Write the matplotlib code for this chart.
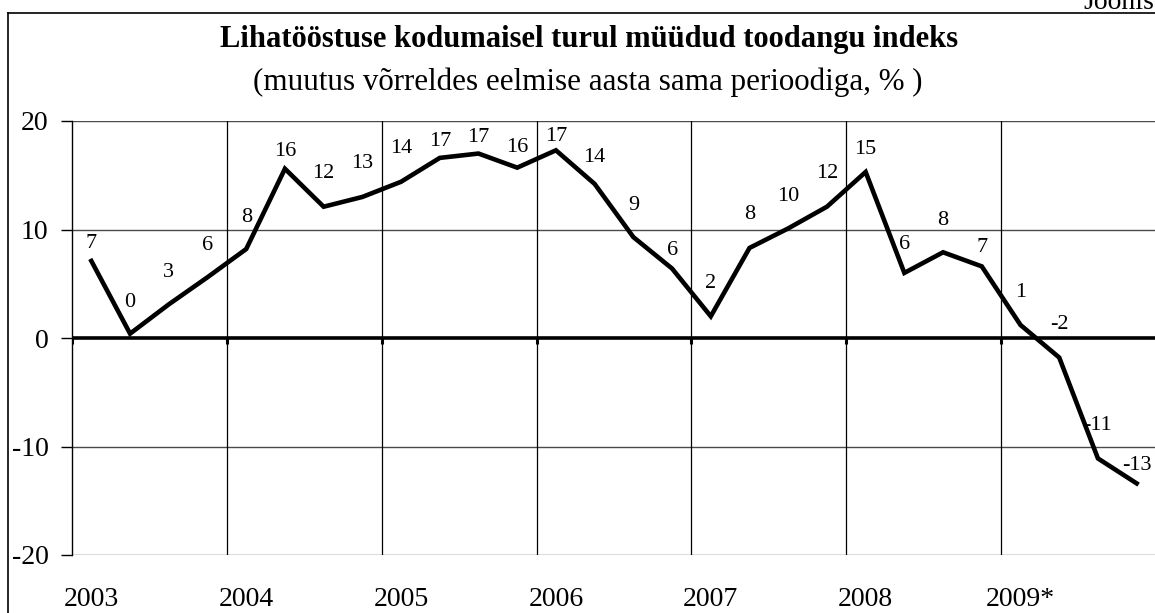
import matplotlib.pyplot as plt
from matplotlib.lines import Line2D
import numpy as np

plt.rcParams['font.family'] = ['Liberation Serif', 'DejaVu Serif']

# quarterly index, 2003 Q1 .. 2009 Q4
values = [7.1, 0.4, 3.1, 5.6, 8.2, 15.6, 12.1, 13.0, 14.4, 16.6, 17.0, 15.7,
          17.3, 14.2, 9.3, 6.4, 2.0, 8.3, 10.1, 12.1, 15.3, 6.0, 7.9, 6.6,
          1.2, -1.8, -11.1, -13.4]
labels = [7, 0, 3, 6, 8, 16, 12, 13, 14, 17, 17, 16,
          17, 14, 9, 6, 2, 8, 10, 12, 15, 6, 8, 7,
          1, -2, -11, -13]
years = ['2003', '2004', '2005', '2006', '2007', '2008', '2009*']
yticks = [-20, -10, 0, 10, 20]

# label offset above the point (pixels)
lab_dy = [17, 31, 32, 32, 32, 17, 33, 33, 33, 16, 16, 20,
          14, 26, 32, 18, 33, 33, 32, 33, 22, 28, 32, 19,
          32, 33, 33, 18]

W, H = 1155, 613
fig = plt.figure(figsize=(W / 100, H / 100), dpi=100)
ax = fig.add_axes([72 / W, 1 - 555 / H, (1156 - 72) / W, (555 - 121) / H])

x = np.arange(len(values))
ax.set_xlim(-0.5, len(values) - 0.5)
ax.set_ylim(-20, 20)

# grid
for yv in yticks:
    if yv != 0:
        ax.axhline(yv, color='#4a4a4a', lw=1.0, zorder=1)
bounds = np.arange(3.5, len(values) - 0.5, 4)
for b in bounds:
    ax.axvline(b, color='black', lw=0.9, zorder=1)

ax.axhline(0, color='black', lw=2.6, zorder=2)
ax.vlines(np.append(-0.5, bounds), -0.55, 0, color='black', lw=2.2, zorder=2)

ax.plot(x, values, color='black', lw=3.3, zorder=3, solid_joinstyle='miter')

for i, (v, l) in enumerate(zip(values, labels)):
    ax.annotate(str(l), (i, v), xytext=(0, lab_dy[i]), textcoords='offset pixels',
                ha='center', va='center', fontsize=16, zorder=4)

for s in ['top', 'right', 'bottom']:
    ax.spines[s].set_visible(False)
ax.spines['left'].set_linewidth(1.0)

ax.set_yticks(yticks)
ax.set_yticklabels([str(t) for t in yticks])
ax.tick_params(axis='y', length=8, width=1.0, pad=9, labelsize=20)
ax.set_xticks(np.arange(0, len(values), 4))
ax.set_xticklabels(years)
ax.tick_params(axis='x', length=0, pad=23, labelsize=20)

fig.text(589 / W, 1 - 47 / H, 'Lihatööstuse kodumaisel turul müüdud toodangu indeks',
         ha='center', va='baseline', fontsize=22, fontweight='bold')
fig.text(588 / W, 1 - 90 / H, '(muutus võrreldes eelmise aasta sama perioodiga, % )',
         ha='center', va='baseline', fontsize=22.3)
fig.text(1083 / W, 1 - 9 / H, 'Joonis', ha='left', va='baseline', fontsize=20)

fig.add_artist(Line2D([8 / W, 8 / W], [1 - 12.5 / H, 0], color='black', lw=1.2,
                      transform=fig.transFigure))
fig.add_artist(Line2D([8 / W, 1], [1 - 12.5 / H, 1 - 12.5 / H], color='black', lw=1.2,
                      transform=fig.transFigure))

fig.savefig('out.png', dpi=100)
